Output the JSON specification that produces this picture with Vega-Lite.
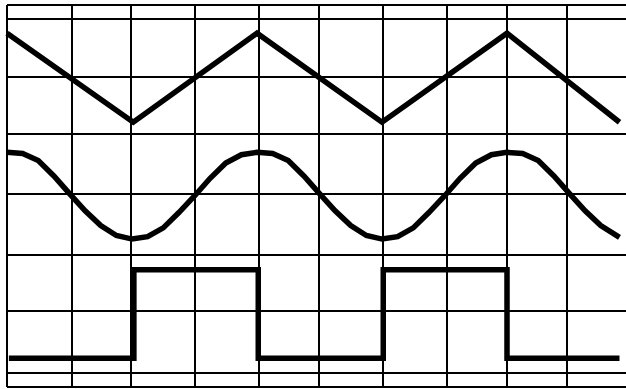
{
  "$schema": "https://vega.github.io/schema/vega-lite/v6.json",
  "width": 619,
  "height": 382,
  "autosize": "none",
  "padding": {"left": 7, "top": 5, "right": 0, "bottom": 2},
  "background": "white",
  "config": {"view": {"stroke": null}},
  "data": {
    "values": [
      {"wave": "triangle", "i": 0, "t": 0, "v": 5.76},
      {"wave": "triangle", "i": 1, "t": 2.02, "v": 4.25},
      {"wave": "triangle", "i": 2, "t": 4.0, "v": 5.76},
      {"wave": "triangle", "i": 3, "t": 6.0, "v": 4.25},
      {"wave": "triangle", "i": 4, "t": 8.0, "v": 5.76},
      {"wave": "triangle", "i": 5, "t": 9.8, "v": 4.25},

      {"wave": "sine", "i": 0, "t": 0, "v": 3.74},
      {"wave": "sine", "i": 1, "t": 0.25, "v": 3.72},
      {"wave": "sine", "i": 2, "t": 0.5, "v": 3.6},
      {"wave": "sine", "i": 3, "t": 0.75, "v": 3.34},
      {"wave": "sine", "i": 4, "t": 1.0, "v": 3.04},
      {"wave": "sine", "i": 5, "t": 1.25, "v": 2.75},
      {"wave": "sine", "i": 6, "t": 1.5, "v": 2.5},
      {"wave": "sine", "i": 7, "t": 1.75, "v": 2.33},
      {"wave": "sine", "i": 8, "t": 2.0, "v": 2.27},
      {"wave": "sine", "i": 9, "t": 2.25, "v": 2.31},
      {"wave": "sine", "i": 10, "t": 2.5, "v": 2.46},
      {"wave": "sine", "i": 11, "t": 2.75, "v": 2.72},
      {"wave": "sine", "i": 12, "t": 3.0, "v": 3.0},
      {"wave": "sine", "i": 13, "t": 3.25, "v": 3.3},
      {"wave": "sine", "i": 14, "t": 3.5, "v": 3.56},
      {"wave": "sine", "i": 15, "t": 3.75, "v": 3.7},
      {"wave": "sine", "i": 16, "t": 4.0, "v": 3.74},
      {"wave": "sine", "i": 17, "t": 4.25, "v": 3.72},
      {"wave": "sine", "i": 18, "t": 4.5, "v": 3.6},
      {"wave": "sine", "i": 19, "t": 4.75, "v": 3.34},
      {"wave": "sine", "i": 20, "t": 5.0, "v": 3.04},
      {"wave": "sine", "i": 21, "t": 5.25, "v": 2.75},
      {"wave": "sine", "i": 22, "t": 5.5, "v": 2.5},
      {"wave": "sine", "i": 23, "t": 5.75, "v": 2.33},
      {"wave": "sine", "i": 24, "t": 6.0, "v": 2.27},
      {"wave": "sine", "i": 25, "t": 6.25, "v": 2.31},
      {"wave": "sine", "i": 26, "t": 6.5, "v": 2.46},
      {"wave": "sine", "i": 27, "t": 6.75, "v": 2.72},
      {"wave": "sine", "i": 28, "t": 7.0, "v": 3.0},
      {"wave": "sine", "i": 29, "t": 7.25, "v": 3.3},
      {"wave": "sine", "i": 30, "t": 7.5, "v": 3.56},
      {"wave": "sine", "i": 31, "t": 7.75, "v": 3.7},
      {"wave": "sine", "i": 32, "t": 8.0, "v": 3.74},
      {"wave": "sine", "i": 33, "t": 8.25, "v": 3.72},
      {"wave": "sine", "i": 34, "t": 8.5, "v": 3.6},
      {"wave": "sine", "i": 35, "t": 8.75, "v": 3.34},
      {"wave": "sine", "i": 36, "t": 9.0, "v": 3.04},
      {"wave": "sine", "i": 37, "t": 9.25, "v": 2.75},
      {"wave": "sine", "i": 38, "t": 9.5, "v": 2.5},
      {"wave": "sine", "i": 39, "t": 9.8, "v": 2.3},

      {"wave": "square", "i": 0, "t": 0.03, "v": 0.25},
      {"wave": "square", "i": 1, "t": 2.03, "v": 0.25},
      {"wave": "square", "i": 2, "t": 2.03, "v": 1.75},
      {"wave": "square", "i": 3, "t": 4.02, "v": 1.75},
      {"wave": "square", "i": 4, "t": 4.02, "v": 0.25},
      {"wave": "square", "i": 5, "t": 6.02, "v": 0.25},
      {"wave": "square", "i": 6, "t": 6.02, "v": 1.75},
      {"wave": "square", "i": 7, "t": 8.0, "v": 1.75},
      {"wave": "square", "i": 8, "t": 8.0, "v": 0.25},
      {"wave": "square", "i": 9, "t": 9.8, "v": 0.25}
    ]
  },
  "mark": {"type": "line", "color": "black", "strokeWidth": 5.5, "strokeJoin": "miter", "strokeCap": "butt", "clip": false},
  "encoding": {
    "x": {
      "field": "t",
      "type": "quantitative",
      "scale": {"domain": [0, 9.904], "nice": false, "zero": false},
      "axis": {
        "labels": false, "ticks": false, "domain": false, "title": null, "translate": 0,
        "grid": true, "gridColor": "black", "gridWidth": 2, "gridOpacity": 1,
        "values": [0.001, 1.04, 1.984, 3.008, 4.032, 4.992, 6.016, 7.04, 8.0, 8.96]
      }
    },
    "y": {
      "field": "v",
      "type": "quantitative",
      "scale": {"domain": [-0.237, 6.237], "nice": false, "zero": false},
      "axis": {
        "labels": false, "ticks": false, "domain": false, "title": null, "translate": 0,
        "grid": true, "gridColor": "black", "gridWidth": 2, "gridOpacity": 1,
        "values": [-0.236, 0, 1.051, 2.0, 3.034, 4.051, 5.017, 6.0, 6.236]
      }
    },
    "detail": {"field": "wave", "type": "nominal"},
    "order": {"field": "i", "type": "quantitative"}
  }
}
